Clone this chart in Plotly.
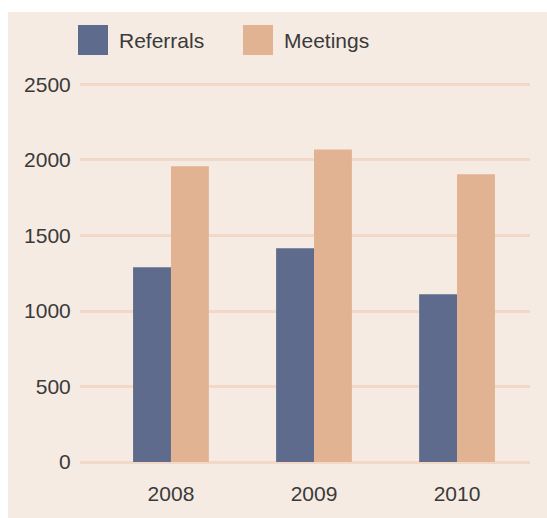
import plotly.graph_objects as go

years = ["2008", "2009", "2010"]
referrals = [1290, 1415, 1111]
meetings = [1958, 2070, 1905]
y_ticks = [0, 500, 1000, 1500, 2000, 2500]

W, H = 547, 518
L, R, T, B = 80, W - 530, 70, H - 470
PW, PH = W - L - R, H - T - B

def px(x):
    return (x - L) / PW

def py(y):
    return (H - B - y) / PH

c_ref = "#5E6B8C"
c_meet = "#E2B393"
bg = "#F6EBE2"
grid = "#F2D8C6"
txt = "#3A3A3A"
font = "Liberation Sans, Arial, sans-serif"

xs = list(range(len(years)))
fig = go.Figure()
fig.add_trace(go.Bar(x=xs, y=referrals, name="Referrals", marker=dict(color=c_ref, line=dict(width=0))))
fig.add_trace(go.Bar(x=xs, y=meetings, name="Meetings", marker=dict(color=c_meet, line=dict(width=0))))

shapes = [
    dict(type="rect", xref="paper", yref="paper", x0=px(8), x1=px(547), y0=py(518), y1=py(12),
         fillcolor=bg, line=dict(width=0), layer="below"),
    dict(type="rect", xref="paper", yref="paper", x0=px(78), x1=px(108), y0=py(55), y1=py(25),
         fillcolor=c_ref, line=dict(width=0)),
    dict(type="rect", xref="paper", yref="paper", x0=px(243), x1=px(273), y0=py(55), y1=py(25),
         fillcolor=c_meet, line=dict(width=0)),
]
annotations = [
    dict(text="Referrals", xref="paper", yref="paper", x=px(117), y=py(40), xanchor="left", yanchor="middle",
         showarrow=False, font=dict(size=21, color=txt, family=font)),
    dict(text="Meetings", xref="paper", yref="paper", x=px(282), y=py(40), xanchor="left", yanchor="middle",
         showarrow=False, font=dict(size=21, color=txt, family=font)),
]

ppu = 378 / 2500
fig.update_layout(
    width=W, height=H,
    margin=dict(l=L, r=R, t=T, b=B, pad=0),
    paper_bgcolor="white",
    plot_bgcolor="rgba(0,0,0,0)",
    barmode="group", bargap=0.47, bargroupgap=0,
    showlegend=False,
    shapes=shapes, annotations=annotations,
    font=dict(family=font, size=21, color=txt),
    xaxis=dict(tickvals=xs, ticktext=years, range=[-0.636, 2.51], showgrid=False, zeroline=False,
               showline=False, ticks="outside", ticklen=5, tickcolor="rgba(0,0,0,0)",
               tickfont=dict(size=21, color=txt)),
    yaxis=dict(tickvals=y_ticks, range=[-(470 - 462) / ppu, 2500 + (84.5 - 70) / ppu],
               showgrid=True, gridcolor=grid, gridwidth=3, zeroline=False, showline=False,
               ticks="outside", ticklen=4, tickcolor="rgba(0,0,0,0)",
               tickfont=dict(size=21, color=txt)),
)
fig.write_html("out.html", config={"displayModeBar": False},
               post_script="document.body.style.margin='0';document.body.style.overflow='hidden';")
